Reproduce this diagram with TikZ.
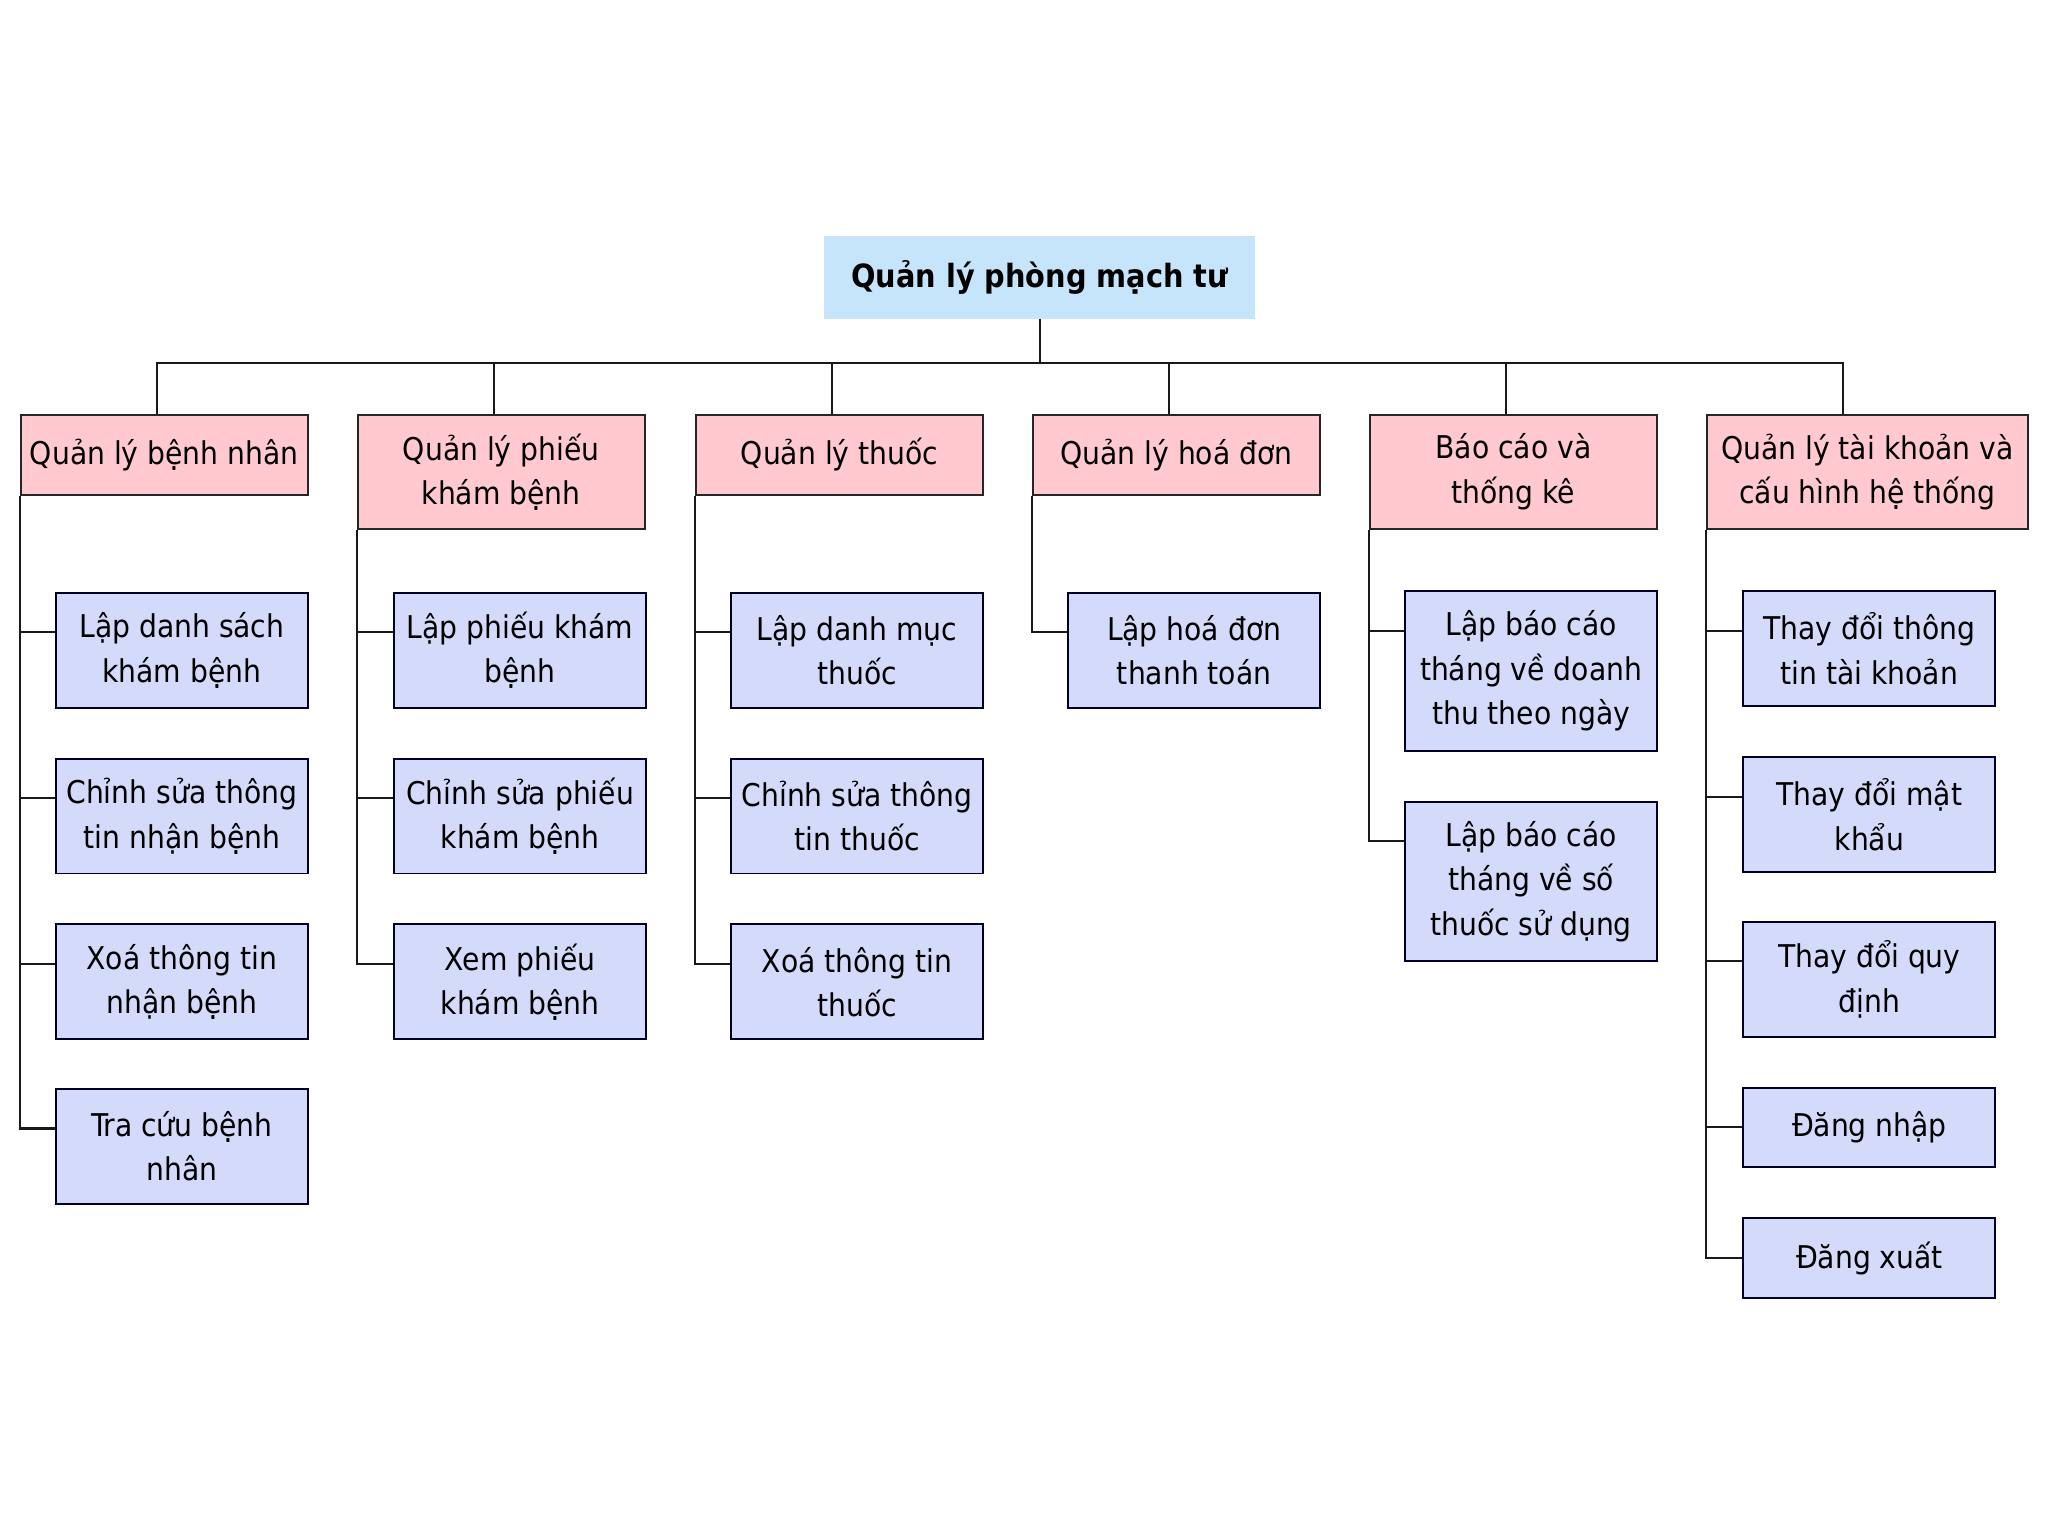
\documentclass[tikz,border=0pt]{standalone}
\usepackage{fontspec}
\setmainfont{DejaVu Sans Condensed}
\usepackage{xcolor}
\usepackage{tikz}
\usetikzlibrary{positioning}
\definecolor{rootblue}{HTML}{C6E5FA}
\definecolor{grouppink}{HTML}{FFC9CF}
\definecolor{tasklilac}{HTML}{D3DAFA}
\tikzset{
root box/.style = { rectangle, draw = none, fill = rootblue, minimum width = 330pt, minimum height = 63pt, inner sep = 0pt, font = \fontsize{24.5}{30}\selectfont\bfseries },
group box/.style = { rectangle, draw = black!85, fill = grouppink, line width = 1.5pt, inner sep = 0pt, align = center, anchor = north west, minimum width = 220pt, minimum height = 61pt, font = \fontsize{24}{34}\selectfont },
task box/.style = { rectangle, draw = black!85!blue, fill = tasklilac, line width = 1.5pt, inner sep = 0pt, align = center, anchor = north west, minimum width = 193pt, minimum height = 88pt, font = \fontsize{24}{34}\selectfont },
link/.style = { draw = black!90, line width = 1.6pt },
}

\begin{document}
\begin{tikzpicture}[x = 1pt, y = -1pt]
    \useasboundingbox[fill = white] (0, 0) rectangle (1568, 1176);
    % root
    \node[root box] (root) at (796, 212.5) {Quản lý phòng mạch tư};
    \coordinate (bus) at (796, 278);
    % groups
    \node[group box] (g1) at (15, 317) {Quản lý bệnh nhân};
    \node[group box, minimum height = 87pt] (g2) at (273, 317) {Quản lý phiếu\\khám bệnh};
    \node[group box] (g3) at (532, 317) {Quản lý thuốc};
    \node[group box] (g4) at (790, 317) {Quản lý hoá đơn};
    \node[group box, minimum height = 87pt] (g5) at (1048, 317) {Báo cáo và\\thống kê};
    \node[group box, minimum height = 87pt, minimum width = 246pt] (g6) at (1306, 317) {Quản lý tài khoản và\\cấu hình hệ thống};
    % tasks
    \node[task box] (t11) at (42, 453) {Lập danh sách\\khám bệnh};
    \node[task box] (t12) at (42, 580) {Chỉnh sửa thông\\tin nhận bệnh};
    \node[task box] (t13) at (42, 707) {Xoá thông tin\\nhận bệnh};
    \node[task box] (t14) at (42, 833) {Tra cứu bệnh\\nhân};
    \node[task box] (t21) at (301, 453) {Lập phiếu khám\\bệnh};
    \node[task box] (t22) at (301, 580) {Chỉnh sửa phiếu\\khám bệnh};
    \node[task box] (t23) at (301, 707) {Xem phiếu\\khám bệnh};
    \node[task box] (t31) at (559, 453) {Lập danh mục\\thuốc};
    \node[task box] (t32) at (559, 580) {Chỉnh sửa thông\\tin thuốc};
    \node[task box] (t33) at (559, 707) {Xoá thông tin\\thuốc};
    \node[task box] (t41) at (817, 453) {Lập hoá đơn\\thanh toán};
    \node[task box, minimum height = 122pt] (t51) at (1075, 452) {Lập báo cáo\\tháng về doanh\\thu theo ngày};
    \node[task box, minimum height = 122pt] (t52) at (1075, 613) {Lập báo cáo\\tháng về số\\thuốc sử dụng};
    \node[task box] (t61) at (1334, 452) {Thay đổi thông\\tin tài khoản};
    \node[task box] (t62) at (1334, 579) {Thay đổi mật\\khẩu};
    \node[task box] (t63) at (1334, 705) {Thay đổi quy\\định};
    \node[task box, minimum height = 61pt] (t64) at (1334, 832) {Đăng nhập};
    \node[task box, minimum height = 61pt] (t65) at (1334, 932) {Đăng xuất};
    % root to groups
    \draw[link] (root.south) -- (bus);
    \draw[link] ([xshift = 105pt]g1.north west) |- (bus);
    \draw[link] ([xshift = 105pt]g2.north west) |- (bus);
    \draw[link] ([xshift = 105pt]g3.north west) |- (bus);
    \draw[link] ([xshift = 105pt]g4.north west) |- (bus);
    \draw[link] ([xshift = 105pt]g5.north west) |- (bus);
    \draw[link] ([xshift = 105pt]g6.north west) |- (bus);
    % groups to tasks
    \draw[link] (g1.south west) |- ([yshift = -31pt]t11.north west);
    \draw[link] (g1.south west) |- ([yshift = -31pt]t12.north west);
    \draw[link] (g1.south west) |- ([yshift = -31pt]t13.north west);
    \draw[link] (g1.south west) |- ([yshift = -31pt]t14.north west);
    \draw[link] (g2.south west) |- ([yshift = -31pt]t21.north west);
    \draw[link] (g2.south west) |- ([yshift = -31pt]t22.north west);
    \draw[link] (g2.south west) |- ([yshift = -31pt]t23.north west);
    \draw[link] (g3.south west) |- ([yshift = -31pt]t31.north west);
    \draw[link] (g3.south west) |- ([yshift = -31pt]t32.north west);
    \draw[link] (g3.south west) |- ([yshift = -31pt]t33.north west);
    \draw[link] (g4.south west) |- ([yshift = -31pt]t41.north west);
    \draw[link] (g5.south west) |- ([yshift = -31pt]t51.north west);
    \draw[link] (g5.south west) |- ([yshift = -31pt]t52.north west);
    \draw[link] (g6.south west) |- ([yshift = -31pt]t61.north west);
    \draw[link] (g6.south west) |- ([yshift = -31pt]t62.north west);
    \draw[link] (g6.south west) |- ([yshift = -31pt]t63.north west);
    \draw[link] (g6.south west) |- ([yshift = -31pt]t64.north west);
    \draw[link] (g6.south west) |- ([yshift = -31pt]t65.north west);
\end{tikzpicture}
\end{document}
